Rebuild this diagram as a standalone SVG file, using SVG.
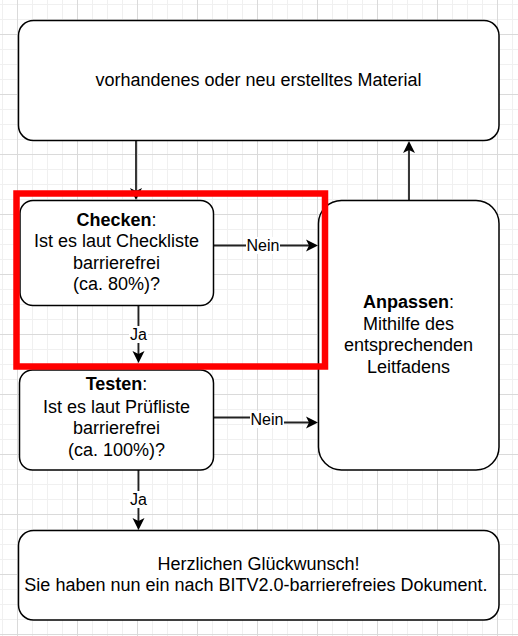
<svg xmlns="http://www.w3.org/2000/svg" width="518" height="636" viewBox="0 0 518 636">
<defs>
<pattern id="grid" patternUnits="userSpaceOnUse" x="17" y="34" width="60" height="60">
<path d="M0.5,0V60M15.5,0V60M30.5,0V60M45.5,0V60M0,0.5H60M0,15.5H60M0,30.5H60M0,45.5H60" stroke="#f0f0f0" stroke-width="1" fill="none"/>
<path d="M0.5,0V60M0,0.5H60" stroke="#dadada" stroke-width="1" fill="none"/>
</pattern>
<marker id="arr" markerUnits="userSpaceOnUse" markerWidth="14" markerHeight="14" viewBox="0 0 14 14" refX="3" refY="7" orient="auto">
<path d="M0,1 L12,7 L0,13 L3,7 Z" fill="#000"/>
</marker>
</defs>
<style>
.box{fill:#fff;stroke:#000;stroke-width:1.5}
.edge{fill:none;stroke:#222;stroke-width:1.8;marker-end:url(#arr)}
.t{font-family:"Liberation Sans",Arial,sans-serif;font-size:18px;fill:#000;text-anchor:middle}
.l{font-size:16px}
.b{font-weight:bold}
.lblbg{fill:#fff}
</style>
<rect width="518" height="636" fill="#fff"/>
<rect width="518" height="636" fill="url(#grid)"/>

<g id="connectors">
<path class="edge" d="M136,141 V191"/>
<path class="edge" d="M214,245.5 H309"/>
<path class="edge" d="M138.5,306 V354"/>
<path class="edge" d="M409,200 V150"/>
<path class="edge" d="M213,417.5 H256 L276,422.5 H309"/>
<path class="edge" d="M138.5,470 V521"/>
<rect class="lblbg" x="246" y="237" width="34" height="17"/>
<text class="t l" x="263" y="251">Nein</text>
<rect class="lblbg" x="129" y="326" width="19" height="17"/>
<text class="t l" x="138.5" y="340">Ja</text>
<rect class="lblbg" x="250" y="411" width="34" height="17"/>
<text class="t l" x="267" y="425">Nein</text>
<rect class="lblbg" x="129" y="491" width="19" height="17"/>
<text class="t l" x="138.5" y="505">Ja</text>
</g>

<g id="material">
<rect class="box" x="18.5" y="20.5" width="480.5" height="120" rx="15"/>
<text class="t" x="258.5" y="86">vorhandenes oder neu erstelltes Material</text>
</g>

<g id="checken">
<rect class="box" x="20" y="200.5" width="193.5" height="105" rx="13"/>
<text class="t" x="116.5" y="225.5"><tspan class="b">Checken</tspan>:</text>
<text class="t" x="116.5" y="247">Ist es laut Checkliste</text>
<text class="t" x="116.5" y="268.5">barrierefrei</text>
<text class="t" x="116.5" y="290">(ca. 80%)?</text>
</g>

<g id="testen">
<rect class="box" x="19.5" y="370" width="194" height="100" rx="13"/>
<text class="t" x="116.5" y="390"><tspan class="b">Testen</tspan>:</text>
<text class="t" x="116.5" y="412.5">Ist es laut Prüfliste</text>
<text class="t" x="116.5" y="434">barrierefrei</text>
<text class="t" x="116.5" y="455.5">(ca. 100%)?</text>
</g>

<g id="anpassen">
<rect class="box" x="318.5" y="200.5" width="180.5" height="269.5" rx="23"/>
<text class="t" x="408.5" y="308"><tspan class="b">Anpassen</tspan>:</text>
<text class="t" x="408.5" y="329.5">Mithilfe des</text>
<text class="t" x="408.5" y="351">entsprechenden</text>
<text class="t" x="408.5" y="372.5">Leitfadens</text>
</g>

<g id="glueckwunsch">
<rect class="box" x="18.5" y="530.5" width="480.5" height="89.5" rx="15"/>
<text class="t" x="258.5" y="569.5">Herzlichen Glückwunsch!</text>
<text class="t" x="256" y="591">Sie haben nun ein nach BITV2.0-barrierefreies Dokument.</text>
</g>

<g id="highlight">
<rect x="16.5" y="193.5" width="308.5" height="173" fill="none" stroke="#ff0000" stroke-width="6.5"/>
</g>
</svg>
